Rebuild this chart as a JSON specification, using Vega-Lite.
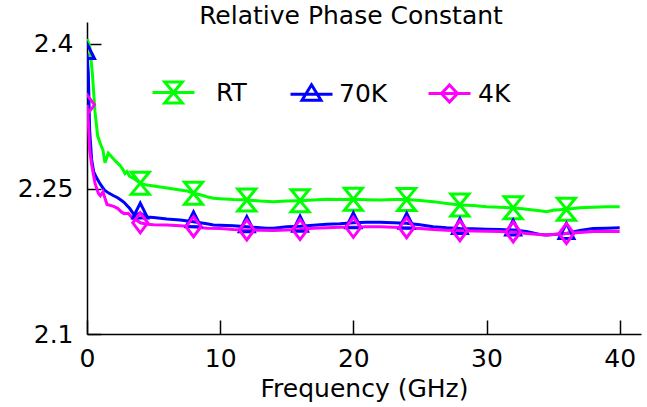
{
  "$schema": "https://vega.github.io/schema/vega-lite/v6.json",
  "width": 554,
  "height": 312,
  "autosize": {"type": "none"},
  "padding": {"left": 87, "top": 22, "right": 6, "bottom": 73},
  "background": "white",
  "config": {
    "view": {"stroke": null},
    "font": "DejaVu Sans",
    "axis": {"grid": false, "domainColor": "black", "domainWidth": 1.5, "tickColor": "black", "tickWidth": 1.5, "labelFont": "DejaVu Sans", "labelFontSize": 25, "labelColor": "black", "titleFont": "DejaVu Sans", "titleFontSize": 25, "titleFontWeight": "normal", "titleColor": "black"}
  },
  "title": {"text": "Relative Phase Constant", "font": "DejaVu Sans", "fontSize": 25, "fontWeight": "normal", "color": "black", "anchor": "middle", "baseline": "alphabetic", "offset": -27, "dx": -13},
  "datasets": {
    "lines": [
      {"s":"RT","f":0,"v":2.405},{"s":"RT","f":0.2,"v":2.398},{"s":"RT","f":0.4,"v":2.37},{"s":"RT","f":0.6,"v":2.33},{"s":"RT","f":0.8,"v":2.305},{"s":"RT","f":1.0,"v":2.297},{"s":"RT","f":1.2,"v":2.29},{"s":"RT","f":1.35,"v":2.277},{"s":"RT","f":1.6,"v":2.287},{"s":"RT","f":2.0,"v":2.281},{"s":"RT","f":2.2,"v":2.278},{"s":"RT","f":2.5,"v":2.274},{"s":"RT","f":2.7,"v":2.27},{"s":"RT","f":2.85,"v":2.266},{"s":"RT","f":3.0,"v":2.268},{"s":"RT","f":3.2,"v":2.263},{"s":"RT","f":3.5,"v":2.261},{"s":"RT","f":3.8,"v":2.258},{"s":"RT","f":4.0,"v":2.256},{"s":"RT","f":4.5,"v":2.254},{"s":"RT","f":5.0,"v":2.253},{"s":"RT","f":5.5,"v":2.252},{"s":"RT","f":6.0,"v":2.251},{"s":"RT","f":6.5,"v":2.25},{"s":"RT","f":7.0,"v":2.249},{"s":"RT","f":7.5,"v":2.248},{"s":"RT","f":8.0,"v":2.2455},{"s":"RT","f":8.5,"v":2.244},{"s":"RT","f":9.0,"v":2.242},{"s":"RT","f":9.5,"v":2.2404},{"s":"RT","f":10,"v":2.24},{"s":"RT","f":11,"v":2.239},{"s":"RT","f":12,"v":2.2386},{"s":"RT","f":13,"v":2.2375},{"s":"RT","f":14,"v":2.2369},{"s":"RT","f":15,"v":2.2375},{"s":"RT","f":16,"v":2.2379},{"s":"RT","f":17,"v":2.2385},{"s":"RT","f":18,"v":2.2393},{"s":"RT","f":19,"v":2.239},{"s":"RT","f":20,"v":2.2393},{"s":"RT","f":21,"v":2.2388},{"s":"RT","f":22,"v":2.2386},{"s":"RT","f":23,"v":2.239},{"s":"RT","f":24,"v":2.239},{"s":"RT","f":25,"v":2.238},{"s":"RT","f":26,"v":2.2369},{"s":"RT","f":27,"v":2.235},{"s":"RT","f":28,"v":2.2334},{"s":"RT","f":29,"v":2.2328},{"s":"RT","f":30,"v":2.2317},{"s":"RT","f":31,"v":2.231},{"s":"RT","f":32,"v":2.2305},{"s":"RT","f":33,"v":2.229},{"s":"RT","f":34,"v":2.2275},{"s":"RT","f":34.5,"v":2.2265},{"s":"RT","f":35,"v":2.228},{"s":"RT","f":36,"v":2.229},{"s":"RT","f":37,"v":2.2305},{"s":"RT","f":38,"v":2.231},{"s":"RT","f":39,"v":2.2315},{"s":"RT","f":40,"v":2.2317},
      {"s":"70K","f":0,"v":2.39},{"s":"70K","f":0.1,"v":2.37},{"s":"70K","f":0.2,"v":2.31},{"s":"70K","f":0.35,"v":2.28},{"s":"70K","f":0.5,"v":2.268},{"s":"70K","f":0.7,"v":2.262},{"s":"70K","f":1.0,"v":2.255},{"s":"70K","f":1.3,"v":2.249},{"s":"70K","f":1.6,"v":2.246},{"s":"70K","f":2.0,"v":2.243},{"s":"70K","f":2.3,"v":2.241},{"s":"70K","f":2.6,"v":2.238},{"s":"70K","f":2.8,"v":2.236},{"s":"70K","f":3.0,"v":2.233},{"s":"70K","f":3.2,"v":2.23},{"s":"70K","f":3.4,"v":2.226},{"s":"70K","f":3.6,"v":2.222},{"s":"70K","f":3.8,"v":2.224},{"s":"70K","f":4.0,"v":2.225},{"s":"70K","f":4.5,"v":2.221},{"s":"70K","f":5.0,"v":2.2205},{"s":"70K","f":6.0,"v":2.219},{"s":"70K","f":7.0,"v":2.218},{"s":"70K","f":8.0,"v":2.216},{"s":"70K","f":9.0,"v":2.214},{"s":"70K","f":9.5,"v":2.2128},{"s":"70K","f":10,"v":2.2125},{"s":"70K","f":11,"v":2.212},{"s":"70K","f":12,"v":2.211},{"s":"70K","f":13,"v":2.2098},{"s":"70K","f":13.5,"v":2.2093},{"s":"70K","f":14,"v":2.2095},{"s":"70K","f":15,"v":2.211},{"s":"70K","f":16,"v":2.2115},{"s":"70K","f":17,"v":2.2125},{"s":"70K","f":18,"v":2.2135},{"s":"70K","f":19,"v":2.214},{"s":"70K","f":20,"v":2.215},{"s":"70K","f":21,"v":2.2155},{"s":"70K","f":22,"v":2.2155},{"s":"70K","f":23,"v":2.215},{"s":"70K","f":24,"v":2.2145},{"s":"70K","f":25,"v":2.213},{"s":"70K","f":26,"v":2.211},{"s":"70K","f":27,"v":2.2098},{"s":"70K","f":28,"v":2.209},{"s":"70K","f":29,"v":2.2088},{"s":"70K","f":30,"v":2.2083},{"s":"70K","f":31,"v":2.208},{"s":"70K","f":32,"v":2.2075},{"s":"70K","f":33,"v":2.206},{"s":"70K","f":34,"v":2.203},{"s":"70K","f":34.5,"v":2.2024},{"s":"70K","f":35,"v":2.203},{"s":"70K","f":36,"v":2.204},{"s":"70K","f":37,"v":2.207},{"s":"70K","f":38,"v":2.209},{"s":"70K","f":39,"v":2.2095},{"s":"70K","f":40,"v":2.21},
      {"s":"4K","f":0,"v":2.337},{"s":"4K","f":0.1,"v":2.32},{"s":"4K","f":0.2,"v":2.29},{"s":"4K","f":0.35,"v":2.275},{"s":"4K","f":0.6,"v":2.256},{"s":"4K","f":0.85,"v":2.2455},{"s":"4K","f":1.0,"v":2.243},{"s":"4K","f":1.2,"v":2.247},{"s":"4K","f":1.5,"v":2.234},{"s":"4K","f":2.0,"v":2.232},{"s":"4K","f":2.3,"v":2.23},{"s":"4K","f":2.6,"v":2.226},{"s":"4K","f":2.8,"v":2.2245},{"s":"4K","f":3.1,"v":2.2248},{"s":"4K","f":3.4,"v":2.22},{"s":"4K","f":3.7,"v":2.218},{"s":"4K","f":4.0,"v":2.215},{"s":"4K","f":4.5,"v":2.2135},{"s":"4K","f":5,"v":2.213},{"s":"4K","f":6,"v":2.2128},{"s":"4K","f":7,"v":2.212},{"s":"4K","f":8,"v":2.211},{"s":"4K","f":9,"v":2.2095},{"s":"4K","f":10,"v":2.209},{"s":"4K","f":11,"v":2.208},{"s":"4K","f":12,"v":2.2076},{"s":"4K","f":13,"v":2.2072},{"s":"4K","f":14,"v":2.207},{"s":"4K","f":15,"v":2.2075},{"s":"4K","f":16,"v":2.208},{"s":"4K","f":17,"v":2.2093},{"s":"4K","f":18,"v":2.21},{"s":"4K","f":19,"v":2.2105},{"s":"4K","f":20,"v":2.2103},{"s":"4K","f":21,"v":2.2108},{"s":"4K","f":22,"v":2.211},{"s":"4K","f":23,"v":2.2105},{"s":"4K","f":24,"v":2.21},{"s":"4K","f":25,"v":2.209},{"s":"4K","f":26,"v":2.208},{"s":"4K","f":27,"v":2.2072},{"s":"4K","f":28,"v":2.2068},{"s":"4K","f":29,"v":2.2065},{"s":"4K","f":30,"v":2.2062},{"s":"4K","f":31,"v":2.206},{"s":"4K","f":32,"v":2.2055},{"s":"4K","f":33,"v":2.204},{"s":"4K","f":34,"v":2.2028},{"s":"4K","f":34.5,"v":2.2024},{"s":"4K","f":35,"v":2.203},{"s":"4K","f":36,"v":2.204},{"s":"4K","f":37,"v":2.205},{"s":"4K","f":38,"v":2.206},{"s":"4K","f":39,"v":2.206},{"s":"4K","f":40,"v":2.206}
    ],
    "markers": [
      {"s":"RT","f":4,"v":2.256},{"s":"RT","f":8,"v":2.2455},{"s":"RT","f":12,"v":2.2386},{"s":"RT","f":16,"v":2.2379},{"s":"RT","f":20,"v":2.2393},{"s":"RT","f":24,"v":2.239},{"s":"RT","f":28,"v":2.2334},{"s":"RT","f":32,"v":2.2305},{"s":"RT","f":36,"v":2.229},
      {"s":"70K","f":0,"v":2.39},{"s":"70K","f":4,"v":2.225},{"s":"70K","f":8,"v":2.216},{"s":"70K","f":12,"v":2.211},{"s":"70K","f":16,"v":2.2115},{"s":"70K","f":20,"v":2.215},{"s":"70K","f":24,"v":2.2145},{"s":"70K","f":28,"v":2.209},{"s":"70K","f":32,"v":2.2075},{"s":"70K","f":36,"v":2.204},
      {"s":"4K","f":0,"v":2.337},{"s":"4K","f":4,"v":2.215},{"s":"4K","f":8,"v":2.211},{"s":"4K","f":12,"v":2.2076},{"s":"4K","f":16,"v":2.208},{"s":"4K","f":20,"v":2.2103},{"s":"4K","f":24,"v":2.21},{"s":"4K","f":28,"v":2.2068},{"s":"4K","f":32,"v":2.2055},{"s":"4K","f":36,"v":2.204}
    ]
  },
  "encoding": {
    "x": {"field": "f", "type": "quantitative", "scale": {"domain": [0, 41.6], "nice": false, "zero": false},
      "axis": {"values": [0, 10, 20, 30, 40], "tickSize": -14, "labelPadding": 26, "title": "Frequency (GHz)", "titlePadding": 5, "labelFlush": false}},
    "y": {"field": "v", "type": "quantitative", "scale": {"domain": [2.1, 2.4227], "nice": false, "zero": false},
      "axis": {"values": [2.1, 2.25, 2.4], "format": ".2~f", "tickSize": -14, "labelPadding": 28, "title": null, "labelFlush": false}},
    "color": {"field": "s", "type": "nominal",
      "scale": {"domain": ["RT", "70K", "4K"], "range": ["#00ff00", "#0000ff", "#ff00ff"]},
      "legend": {
        "title": null, "orient": "none", "direction": "horizontal", "legendX": 74, "legendY": 58,
        "padding": 0, "offset": 0, "gridAlign": "all", "columnPadding": 34,
        "symbolSize": 400, "symbolStrokeWidth": 3, "labelOffset": 28,
        "labelFont": "DejaVu Sans", "labelFontSize": 25, "labelColor": "black", "labelBaseline": "middle",
        "encode": {
          "symbols": {"update": {
            "shape": {"signal": "datum.value === 'RT' ? 'M-2.1,0H2.1M-0.88,-1.05H0.88L-0.88,1.05H0.88Z' : datum.value === '70K' ? 'M-2.1,0H2.1M0,-0.95L0.95,0.6H-0.95Z' : 'M-2.1,0H2.1M0,-0.85L0.8,0L0,0.85L-0.8,0Z'"},
            "fill": {"value": "transparent"},
            "strokeWidth": {"value": 3},
            "opacity": {"value": 1}
          }},
          "labels": {"update": {
            "dx": {"signal": "datum.value === 'RT' ? 2 : datum.value === '70K' ? -13 : -12"}
          }}
        }
      }}
  },
  "layer": [
    {"data": {"name": "lines"}, "mark": {"type": "line", "strokeWidth": 3, "clip": true}},
    {"data": {"name": "markers"}, "transform": [{"filter": "datum.s === 'RT'"}],
     "mark": {"type": "point", "shape": "M-0.82,-1H0.82L-0.82,1H0.82Z", "filled": false, "strokeWidth": 3, "size": 484, "opacity": 1, "clip": true}},
    {"data": {"name": "markers"}, "transform": [{"filter": "datum.s === '70K'"}],
     "mark": {"type": "point", "shape": "M0,-0.91L0.68,0.45H-0.68Z", "filled": false, "strokeWidth": 3, "size": 484, "opacity": 1, "clip": true}},
    {"data": {"name": "markers"}, "transform": [{"filter": "datum.s === '4K'"}],
     "mark": {"type": "point", "shape": "M0,-0.91L0.68,0L0,0.91L-0.68,0Z", "filled": false, "strokeWidth": 3, "size": 484, "opacity": 1, "clip": true}}
  ]
}
